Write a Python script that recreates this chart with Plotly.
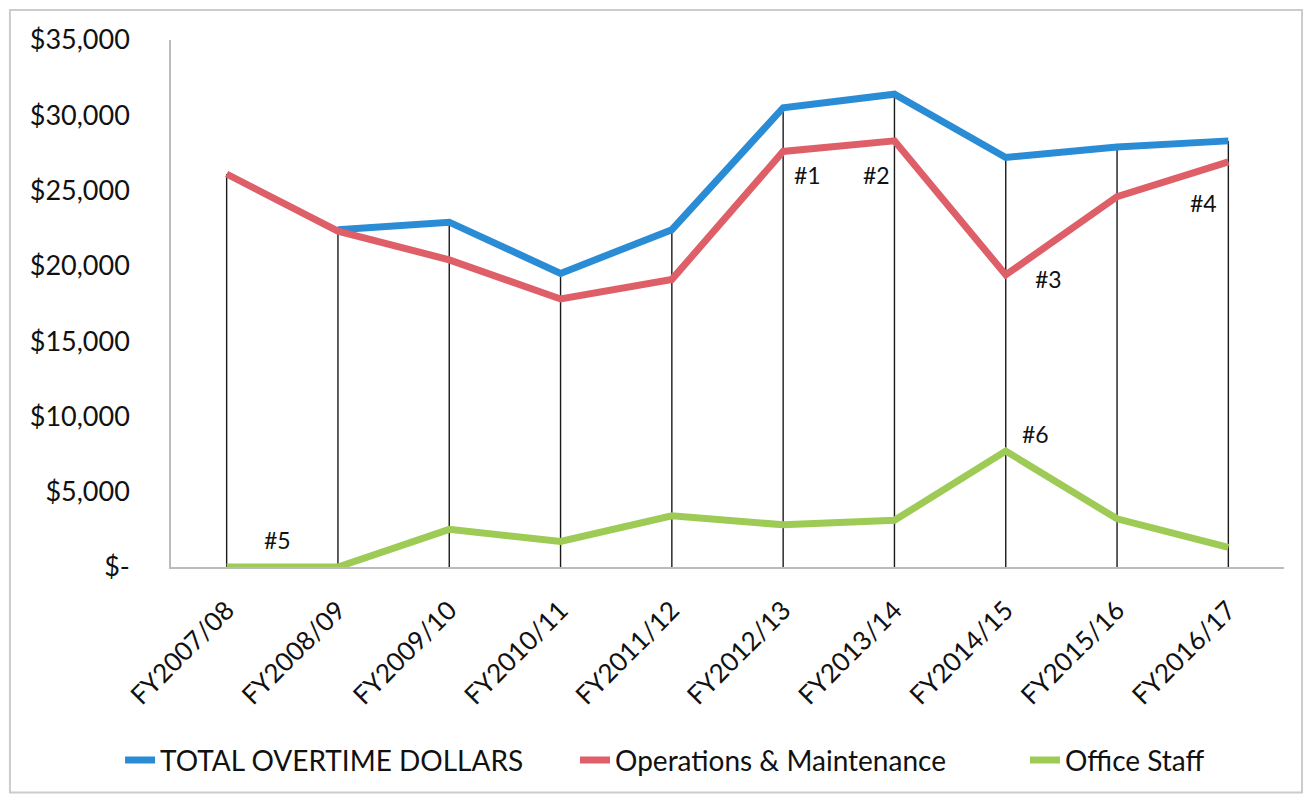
import plotly.graph_objects as go

categories = ["FY2007/08", "FY2008/09", "FY2009/10", "FY2010/11", "FY2011/12",
              "FY2012/13", "FY2013/14", "FY2014/15", "FY2015/16", "FY2016/17"]
total_overtime = [None, 22400, 22900, 19500, 22400, 30500, 31400, 27200, 27900, 28300]
operations_maintenance = [26100, 22300, 20400, 17800, 19100, 27600, 28300, 19400, 24600, 26900]
office_staff = [0, 0, 2500, 1700, 3400, 2800, 3100, 7700, 3200, 1300]

y_tick_vals = [0, 5000, 10000, 15000, 20000, 25000, 30000, 35000]
y_tick_text = ["$-", "$5,000", "$10,000", "$15,000", "$20,000", "$25,000", "$30,000", "$35,000"]

notes = ["#1", "#2", "#3", "#4", "#5", "#6"]
note_pos = [(5.22, 26050), (5.84, 26050), (7.38, 19150), (8.78, 24200), (0.46, 1800), (7.27, 8850)]

FONT = "Lato"

# drop lines from the axis to the highest value at each category
drop_x, drop_y = [], []
for i, c in enumerate(categories):
    vals = [v for v in (total_overtime[i], operations_maintenance[i], office_staff[i]) if v is not None]
    drop_x += [c, c, None]
    drop_y += [0, max(vals), None]

fig = go.Figure()
fig.add_trace(go.Scatter(x=drop_x, y=drop_y, mode="lines",
                         line=dict(color="#1A1A1A", width=1.4),
                         showlegend=False, hoverinfo="skip"))
fig.add_trace(go.Scatter(x=categories, y=total_overtime, mode="lines",
                         name="TOTAL OVERTIME DOLLARS", legend="legend",
                         line=dict(color="#2B8CD6", width=7)))
fig.add_trace(go.Scatter(x=categories, y=operations_maintenance, mode="lines",
                         name="Operations & Maintenance", legend="legend2",
                         line=dict(color="#DE5F68", width=7)))
fig.add_trace(go.Scatter(x=categories, y=office_staff, mode="lines",
                         name="Office Staff", legend="legend3",
                         line=dict(color="#9DCB55", width=7)))

for t, (px, py) in zip(notes, note_pos):
    fig.add_annotation(x=px, y=py, text=t, showarrow=False,
                       font=dict(family=FONT, size=23, color="#111111"))

# outer frame
fig.add_shape(type="rect", xref="paper", yref="paper",
              x0=-0.1447, x1=1.0162, y0=-0.428, y1=1.0568,
              line=dict(color="#CCCCCC", width=2), fillcolor="rgba(0,0,0,0)")

legend_style = dict(orientation="h", y=-0.364, yanchor="middle", xanchor="left",
                    font=dict(family=FONT, size=28, color="#111111"),
                    bgcolor="rgba(0,0,0,0)")

fig.update_layout(
    width=1296, height=788,
    margin=dict(l=163, r=20, t=32, b=228),
    paper_bgcolor="white", plot_bgcolor="white",
    font=dict(family=FONT, color="#111111"),
    legend=dict(x=-0.0458, **legend_style),
    legend2=dict(x=0.363, **legend_style),
    legend3=dict(x=0.7673, **legend_style),
    showlegend=True,
)
fig.update_xaxes(type="category", range=[-0.5, 9.5],
                 showgrid=False, showline=True, linecolor="#BBBBBB", linewidth=1.5,
                 tickangle=-45, tickfont=dict(family=FONT, size=26, color="#111111"),
                 ticks="", ticklabelstandoff=16)
fig.update_yaxes(range=[0, 35000], tickvals=y_tick_vals, ticktext=y_tick_text,
                 showgrid=False, showline=True, linecolor="#BBBBBB", linewidth=1.5,
                 zeroline=False, ticks="",
                 tickfont=dict(family=FONT, size=27, color="#111111"),
                 ticklabelstandoff=34)

fig.write_html("out.html")
